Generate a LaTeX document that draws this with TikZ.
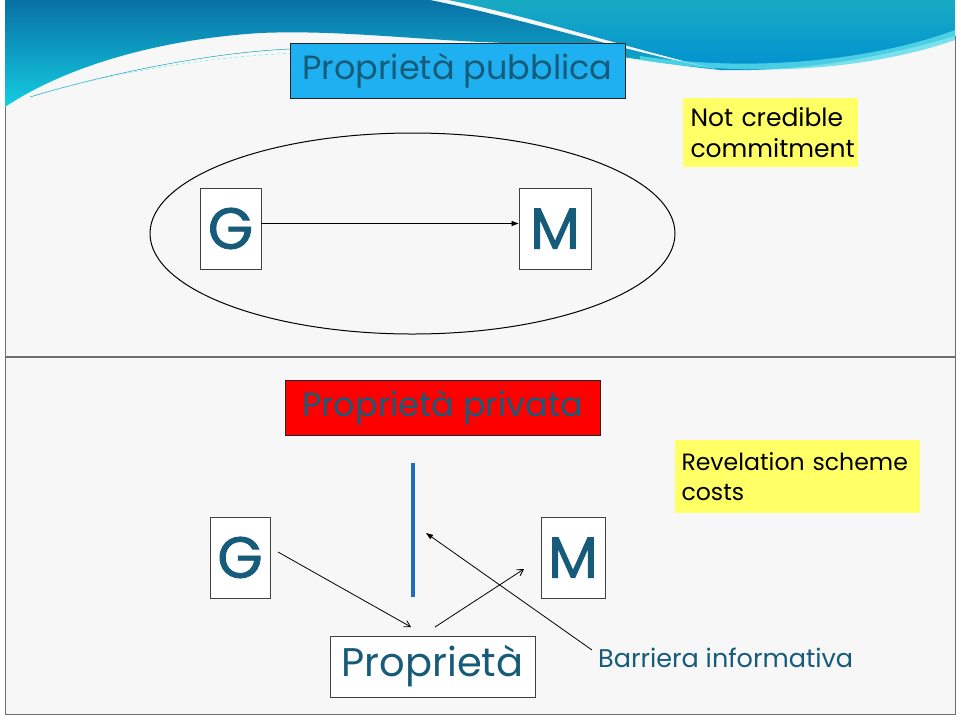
\documentclass[tikz,border=0pt]{standalone}
\usepackage{fontspec}
\newfontfamily\comic{Poppins}
\newfontfamily\comicb[FakeBold=1.5]{Poppins}
\usetikzlibrary{arrows.meta,shapes.geometric}
\definecolor{txt}{RGB}{22,92,122}
\definecolor{slidebg}{RGB}{247,247,247}
\definecolor{frame}{RGB}{110,110,110}
\definecolor{pubfill}{RGB}{30,176,240}
\definecolor{yel}{RGB}{255,255,102}
\definecolor{barline}{RGB}{30,110,190}
\definecolor{darkband}{RGB}{8,112,165}
\definecolor{cyanband}{RGB}{20,205,225}
\definecolor{tealband}{RGB}{25,170,195}
\definecolor{blueband}{RGB}{0,145,210}
\begin{document}
\begin{tikzpicture}[x=1pt,y=-1pt,
  box/.style={draw=black!75, line width=0.9pt, fill=white, inner sep=0pt, font=\comicb\fontsize{58}{60}\selectfont, text=txt},
  title/.style={draw=black!85, line width=0.9pt, inner sep=0pt, font=\comic\fontsize{33.5}{40}\selectfont, text=txt},
  note/.style={fill=yel, inner sep=0pt, align=left, text=black},
  thin/.style={line width=0.8pt, draw=black},
  tipfill/.style={-{Triangle[length=7pt,width=5pt]}},
  tipopen/.style={-{Straight Barb[length=6pt,width=7pt]}}
]
\useasboundingbox (0,0) rectangle (960,716);
\fill[white] (0,0) rectangle (960,716);
% slides
\fill[slidebg] (5,0) rectangle (955,714);
% header band (top slide)
\shade[top color=darkband, bottom color=cyanband]
  (5,0) -- (430,0) .. controls (520,18) and (620,50) .. (720,70)
  .. controls (640,62) and (560,44) .. (480,42)
  .. controls (400,38) and (330,30) .. (260,33)
  .. controls (150,40) and (60,70) .. (5,107) -- cycle;
\shade[top color=tealband, bottom color=blueband]
  (448,0) -- (955,0) -- (955,36)
  .. controls (880,58) and (800,72) .. (720,70)
  .. controls (620,46) and (530,16) .. (448,0) -- cycle;
\fill[cyanband!70!white, opacity=0.8]
  (640,56) .. controls (760,74) and (880,58) .. (955,30) -- (955,40)
  .. controls (880,66) and (770,80) .. (640,60) -- cycle;
\draw[cyanband!80!black, line width=0.5pt] (30,97) .. controls (120,70) and (220,52) .. (290,49);
\draw[cyanband!60!white, line width=0.5pt, dashed] (35,95) .. controls (130,68) and (230,55) .. (300,53);
% frames
\draw[frame, line width=1pt] (5,107) -- (5,357) (955,36) -- (955,357);
\draw[frame, line width=1.5pt] (5,357) -- (955,357);
\draw[frame, line width=1pt] (5,357) rectangle (955,714);

% ---- top slide ----
\node[title, fill=pubfill, minimum width=335pt, minimum height=55pt] (pub) at (457.5,70.5) {Proprietà pubblica};
\node[note, minimum width=175pt, minimum height=69pt, text width=160pt, font=\comic\fontsize{25}{31}\selectfont] (nc) at (770.5,132.5) {Not credible\\commitment};
\node[draw=black, line width=1pt, ellipse, minimum width=525pt, minimum height=201pt, inner sep=0pt] (ell) at (412.5,233.5) {};
\node[box, minimum width=61pt, minimum height=81pt] (G1) at (230.5,228.5) {G};
\node[box, minimum width=72pt, minimum height=81pt] (M1) at (555,228.5) {M};
\draw[thin, tipfill] ([yshift=5pt]G1.east) -- ([yshift=5pt]M1.west);

% ---- bottom slide ----
\node[title, fill=red, minimum width=315pt, minimum height=55pt] (priv) at (442.5,407.5) {Proprietà privata};
\node[note, minimum width=245pt, minimum height=73pt, text width=232pt, font=\comic\fontsize{23.6}{30}\selectfont] (rev) at (797.5,476.5) {Revelation scheme\\costs};
\node[box, minimum width=60pt, minimum height=81pt] (G2) at (240,557.5) {G};
\node[box, minimum width=64pt, minimum height=81pt] (M2) at (573,557.5) {M};
\node[box, minimum width=205pt, minimum height=61pt, font=\comic\fontsize{40}{44}\selectfont] (prop) at (432.5,666.5) {Proprietà};
\node[anchor=west, inner sep=0pt, text=txt, font=\comic\fontsize{25.5}{30}\selectfont] (barr) at (598,658) {Barriera informativa};
\coordinate (bar1) at (413,463);
\coordinate (bar2) at (413,597);
\draw[barline, line width=4pt] (bar1) -- (bar2);
\coordinate (ga) at (278,552);
\coordinate (pa) at (411,627);
\coordinate (pb) at (435,627);
\coordinate (ma) at (524,569);
\coordinate (ba) at (592,650);
\coordinate (bb) at (426,533);
\draw[thin, tipopen] (ga) -- (pa);
\draw[thin, tipopen] (pb) -- (ma);
\draw[thin, tipfill] (ba) -- (bb);
\end{tikzpicture}
\end{document}
